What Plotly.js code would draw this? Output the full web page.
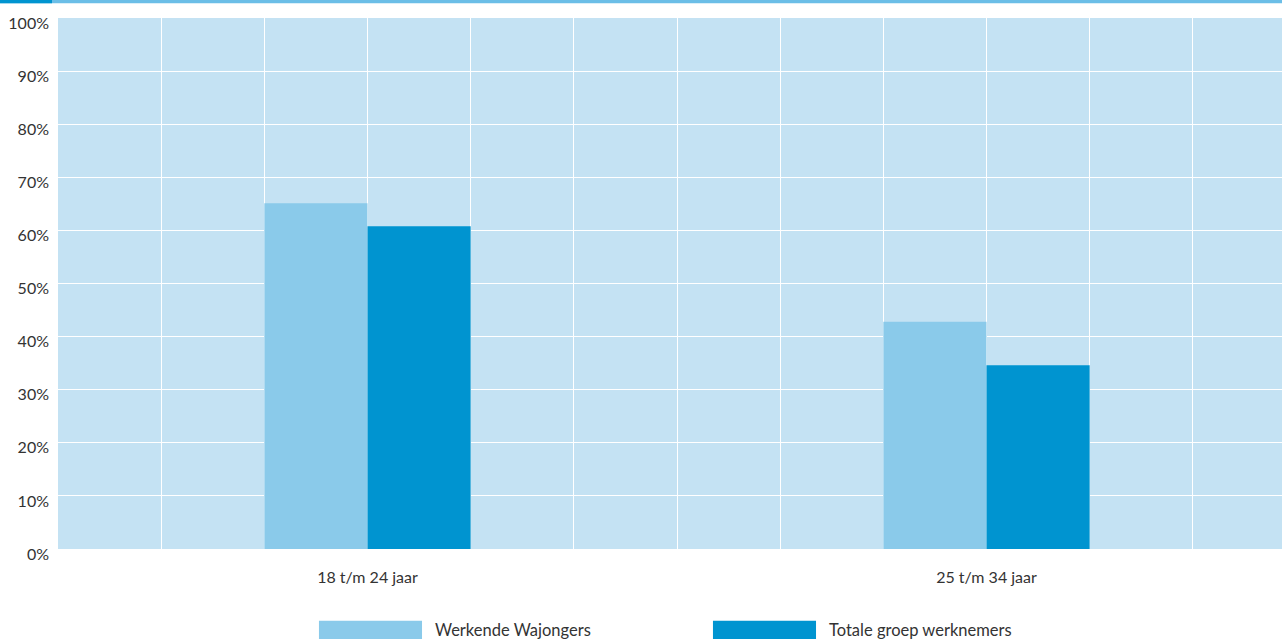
<!DOCTYPE html>
<html>
<head>
<meta charset="utf-8">
<script src="https://cdn.plot.ly/plotly-3.0.1.min.js"></script>
<style>html,body{margin:0;padding:0;background:#fff;}#chart{width:1282px;height:639px;}</style>
</head>
<body>
<div id="chart"></div>
<script>
// Data
const categories = ['18 t/m 24 jaar', '25 t/m 34 jaar'];
const wajongers = [65.1, 42.8];
const totaal = [60.8, 34.6];
const seriesNames = ['Werkende Wajongers', 'Totale groep werknemers'];
const seriesColors = ['#8ACAEA', '#0094D0'];
const yTickVals = [0, 10, 20, 30, 40, 50, 60, 70, 80, 90, 100];
const yTickText = yTickVals.map(v => v + '%');

const traces = [
  {type: 'bar', name: seriesNames[0], x: categories, y: wajongers,
   marker: {color: seriesColors[0], line: {width: 0}}, hoverinfo: 'x+y'},
  {type: 'bar', name: seriesNames[1], x: categories, y: totaal,
   marker: {color: seriesColors[1], line: {width: 0}}, hoverinfo: 'x+y'},
  {type: 'scatter', x: [], y: [], xaxis: 'x2', showlegend: false, hoverinfo: 'skip'}
];

const plotW = 1282 - 58;
const catPx = 619;
const xRange = [-0.5, -0.5 + plotW / catPx];

// manual legend built from series names
const swatchX = [[0.2132, 0.2974], [0.5351, 0.6193]];
const textX = [0.3065, 0.6284];
const shapes = [
  {type: 'rect', xref: 'paper', yref: 'paper', x0: -0.0474, x1: 1.0, y0: 1.0276, y1: 1.0345,
   fillcolor: '#6BBEE7', line: {width: 0}, layer: 'above'},
  {type: 'rect', xref: 'paper', yref: 'paper', x0: -0.0474, x1: -0.0049, y0: 1.0276, y1: 1.0345,
   fillcolor: '#0094D0', line: {width: 0}, layer: 'above'}
];
const annotations = [];
seriesNames.forEach((n, i) => {
  shapes.push({type: 'rect', xref: 'paper', yref: 'paper', x0: swatchX[i][0], x1: swatchX[i][1],
    y0: -0.19, y1: -0.135, fillcolor: seriesColors[i], line: {width: 0}});
  annotations.push({xref: 'paper', yref: 'paper', x: textX[i], y: -0.153, xanchor: 'left', yanchor: 'middle',
    text: n, showarrow: false, font: {family: 'Lato, sans-serif', size: 16.5, color: '#333333'}});
});

const layout = {
  width: 1282, height: 639,
  margin: {l: 58, r: 0, t: 18, b: 90, pad: 0},
  paper_bgcolor: '#ffffff',
  plot_bgcolor: '#C4E2F3',
  font: {family: 'Lato, sans-serif', size: 16, color: '#333333'},
  showlegend: false,
  barmode: 'group',
  bargap: 1 - 2 * (103.17 / catPx),
  bargroupgap: 0,
  xaxis: {type: 'category', range: xRange, showgrid: false, zeroline: false, showline: false,
    ticks: '', ticklabelstandoff: 17, tickfont: {size: 16, color: '#333333'}},
  xaxis2: {overlaying: 'x', range: [0, plotW / 103.17], tick0: 0, dtick: 1, showgrid: true,
    gridcolor: '#ffffff', gridwidth: 1, showticklabels: false, zeroline: false, showline: false, ticks: ''},
  yaxis: {range: [0, 100], tickmode: 'array', tickvals: yTickVals, ticktext: yTickText, showgrid: true,
    gridcolor: '#ffffff', gridwidth: 1, zeroline: false, showline: false, ticks: '', ticklabelstandoff: 8,
    ticklabelshift: 5, tickfont: {size: 16, color: '#333333'}},
  shapes: shapes,
  annotations: annotations
};

Plotly.newPlot('chart', traces, layout, {displayModeBar: false, responsive: false});
</script>
</body>
</html>
